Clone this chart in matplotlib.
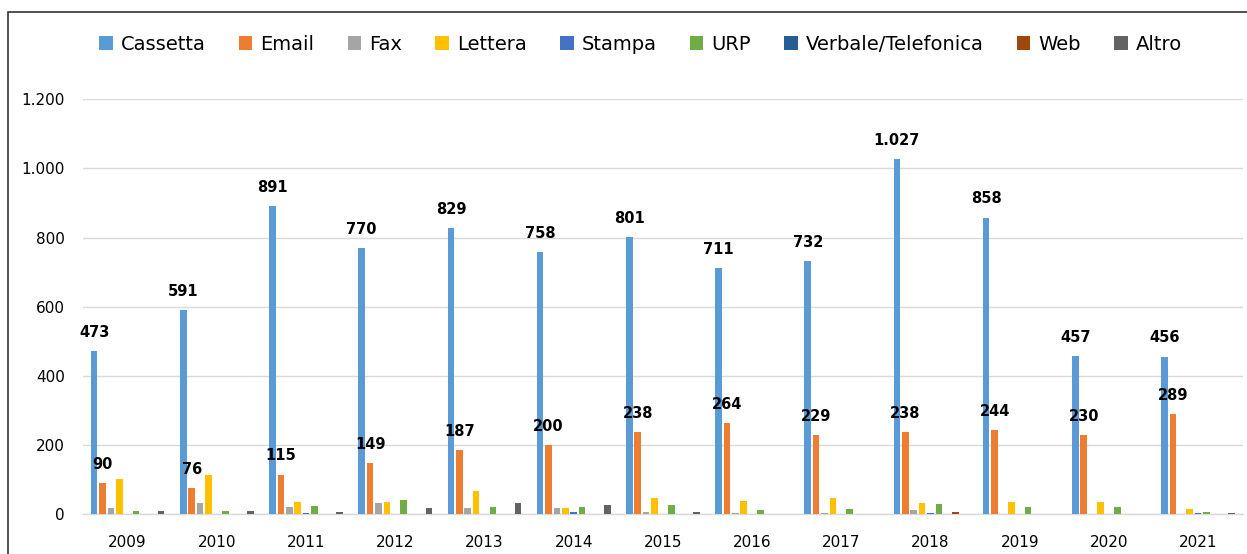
import numpy as np
import matplotlib.pyplot as plt
from matplotlib.patches import Rectangle
from matplotlib.ticker import FuncFormatter

# Data
years = ['2009', '2010', '2011', '2012', '2013', '2014', '2015',
         '2016', '2017', '2018', '2019', '2020', '2021']
series = ['Cassetta', 'Email', 'Fax', 'Lettera', 'Stampa', 'URP',
          'Verbale/Telefonica', 'Web', 'Altro']

cassetta = [473, 591, 891, 770, 829, 758, 801, 711, 732, 1027, 858, 457, 456]
email = [90, 76, 115, 149, 187, 200, 238, 264, 229, 238, 244, 230, 289]
fax = [17, 32, 22, 32, 19, 19, 8, 4, 4, 11, 0, 0, 0]
lettera = [103, 113, 35, 35, 68, 19, 47, 39, 47, 32, 36, 36, 16]
stampa = [0, 0, 5, 0, 0, 6, 0, 0, 0, 4, 0, 0, 4]
urp = [9, 9, 24, 40, 22, 22, 26, 12, 14, 29, 21, 21, 6]
verbale = [0, 0, 0, 0, 0, 0, 0, 0, 0, 0, 0, 0, 0]
web = [0, 0, 0, 0, 0, 0, 0, 0, 0, 6, 0, 0, 0]
altro = [9, 9, 6, 17, 32, 27, 8, 0, 0, 0, 0, 0, 4]

values = [cassetta, email, fax, lettera, stampa, urp, verbale, web, altro]
colors = ['#5B9BD5', '#ED7D31', '#A5A5A5', '#FFC000', '#4472C4',
          '#70AD47', '#255E91', '#9E480E', '#636363']

def it_fmt(v):
    return f'{int(v):,}'.replace(',', '.')

fig = plt.figure(figsize=(12.47, 5.54), dpi=100)
ax = fig.add_axes([0.0666, 0.0717, 0.930, 0.749])

x = np.arange(len(years))
n = len(series)
step = 0.094
width = 0.074
for i, (name, vals, c) in enumerate(zip(series, values, colors)):
    pos = x + (i - (n - 1) / 2) * step
    ax.bar(pos, vals, width, color=c, label=name, zorder=3)
    if i < 2:
        for p, v in zip(pos, vals):
            ax.annotate(it_fmt(v), (p, v), xytext=(0, 8), textcoords='offset points',
                        ha='center', va='bottom', fontsize=10.5, fontweight='bold')

ax.set_xlim(-0.5, len(years) - 0.5)
ax.set_ylim(0, 1200)
ax.set_yticks(range(0, 1201, 200))
ax.yaxis.set_major_formatter(FuncFormatter(lambda v, p: it_fmt(v)))
ax.set_xticks(x)
ax.set_xticklabels(years)
ax.tick_params(axis='both', length=0, labelsize=11)
ax.tick_params(axis='y', pad=13)
ax.tick_params(axis='x', pad=15)
ax.grid(axis='y', color='#D9D9D9', linewidth=1, zorder=0)
for s in ['top', 'right', 'left']:
    ax.spines[s].set_visible(False)
ax.spines['bottom'].set_color('#D9D9D9')
ax.spines['bottom'].set_linewidth(1)
ax.set_axisbelow(True)

fig.legend(loc='center', bbox_to_anchor=(0.5136, 0.92), ncol=9, frameon=False,
           fontsize=14, handlelength=0.7, handleheight=0.7, handletextpad=0.4,
           columnspacing=1.72)

# outer chart frame
fig.patches.append(Rectangle((8 / 1247, -0.01), 1.0, 1 - 12 / 554 + 0.01,
                             transform=fig.transFigure, fill=False,
                             edgecolor='#333333', linewidth=1.2))

fig.savefig('out.png', dpi=100)
